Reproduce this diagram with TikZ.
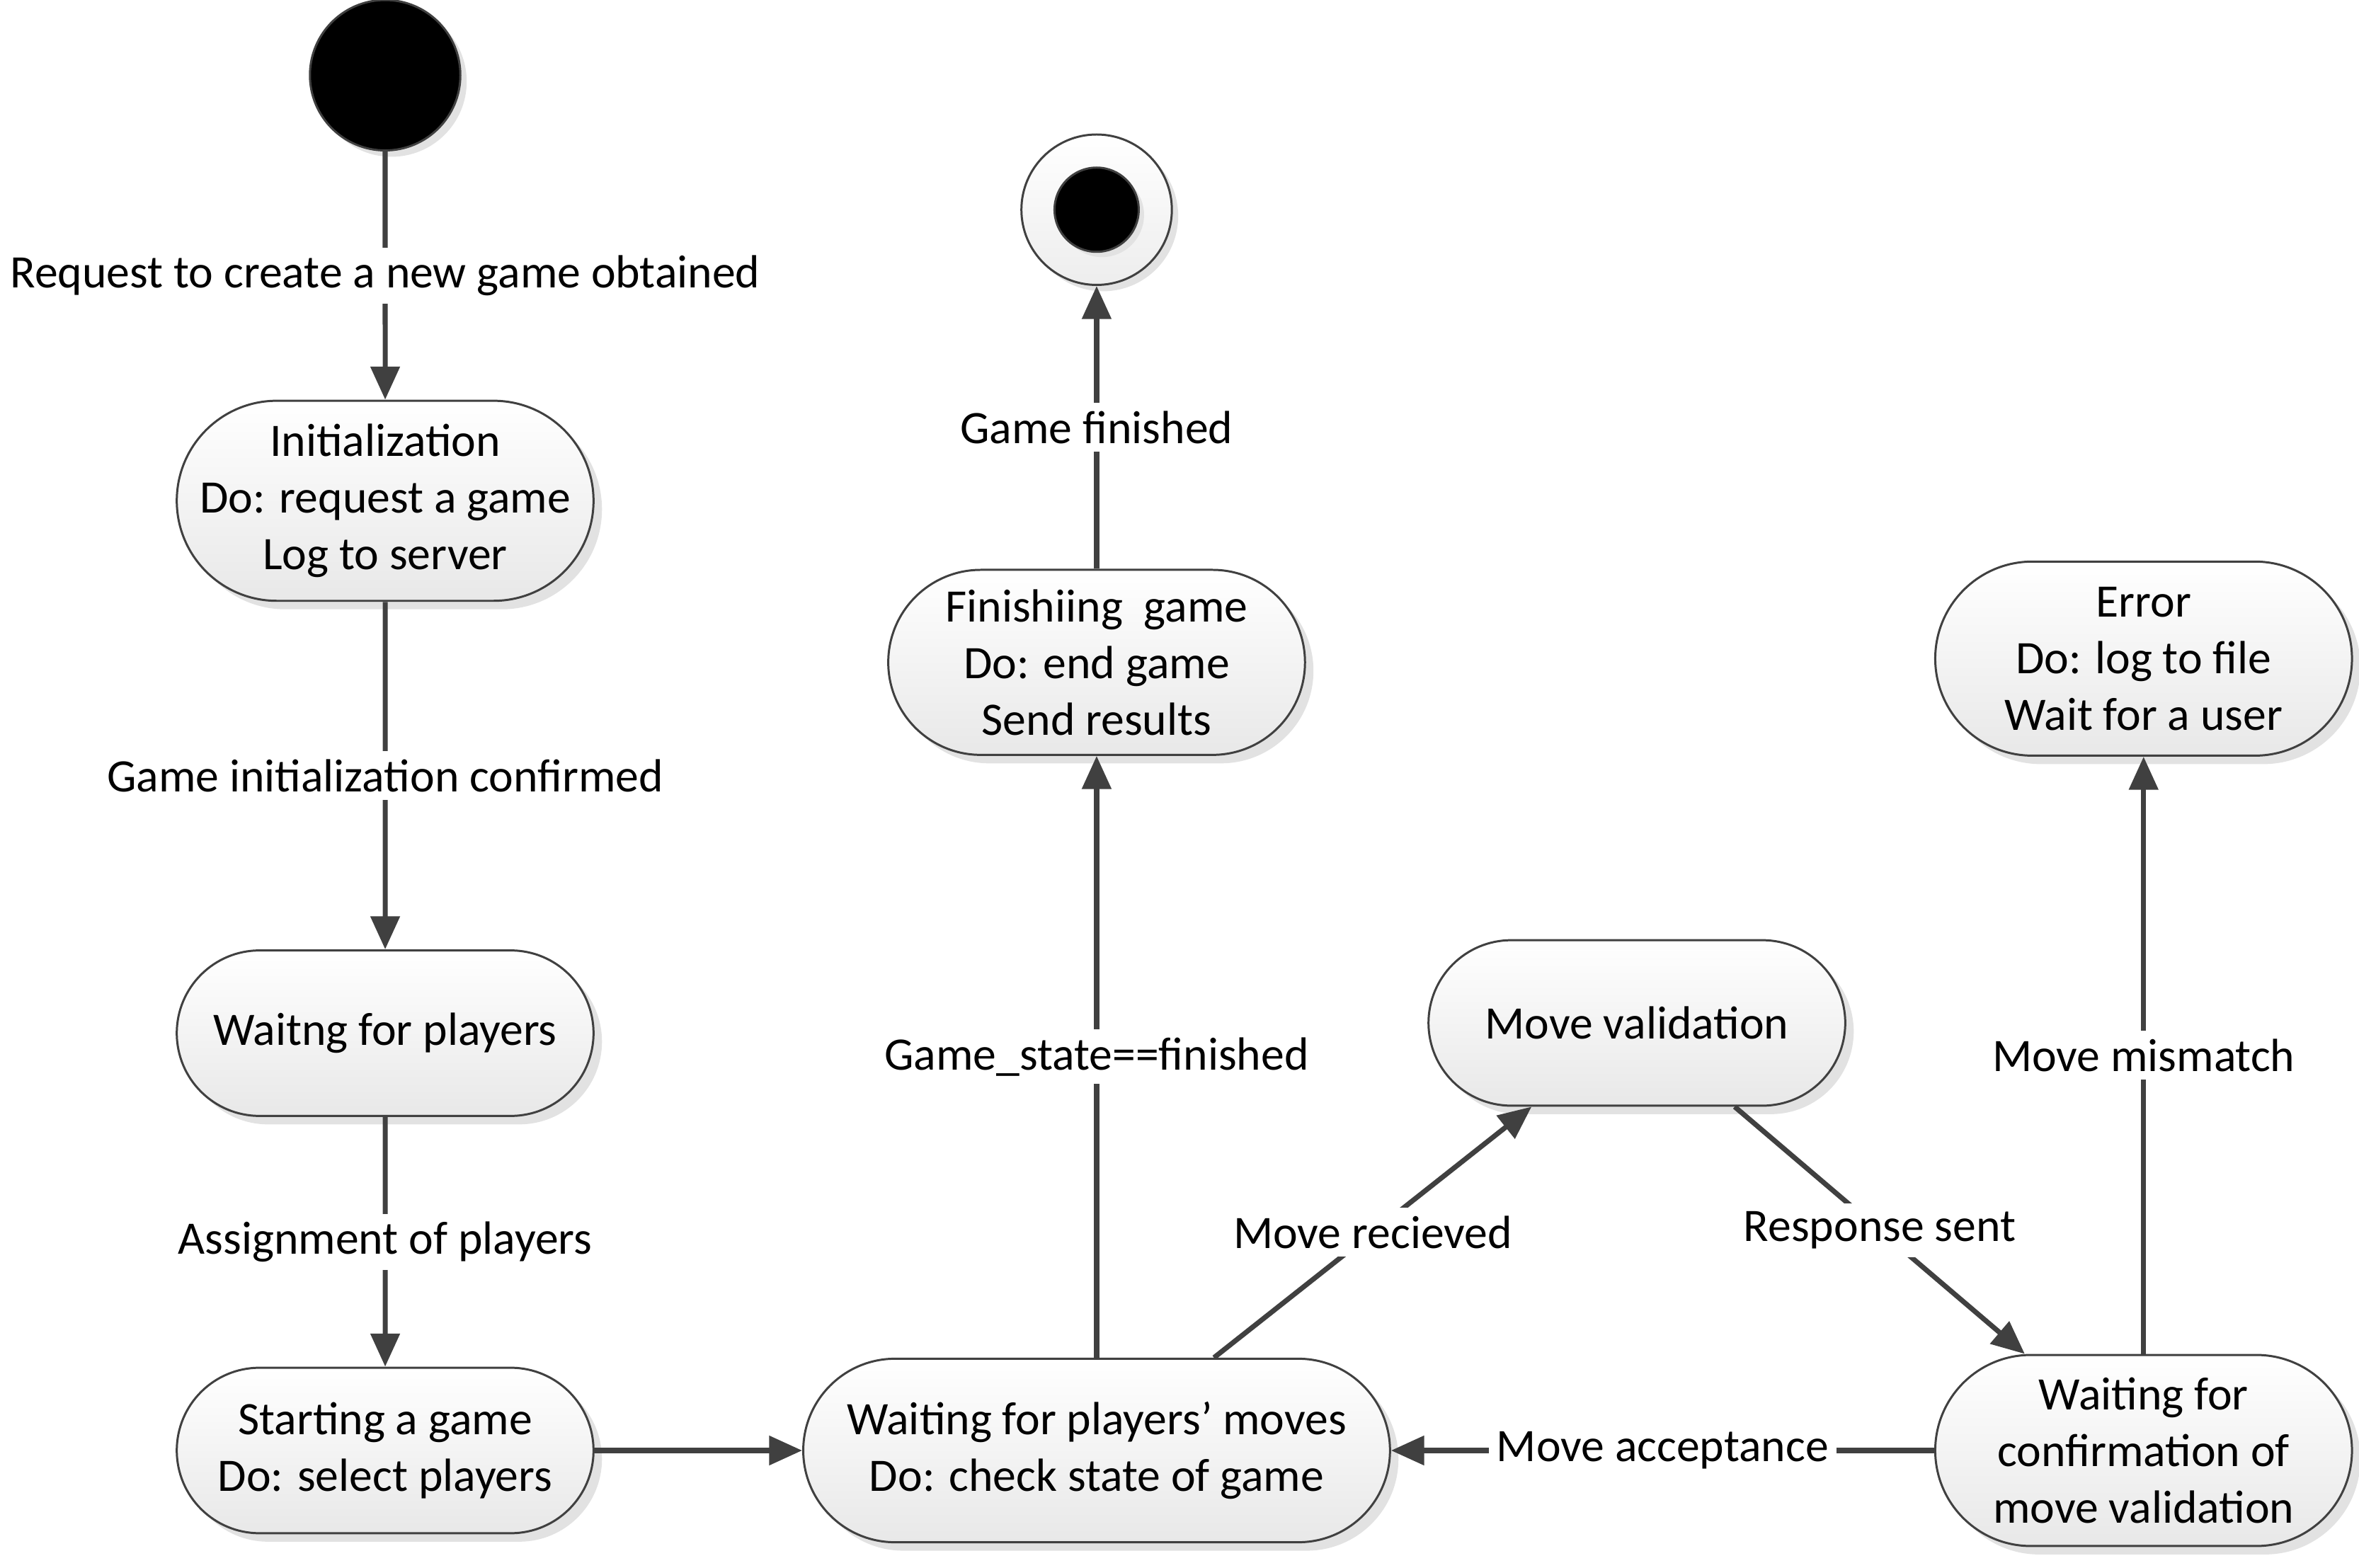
\documentclass[tikz,border=0pt]{standalone}
\usepackage{fontspec}
\setmainfont{Carlito}
\usetikzlibrary{shapes.misc, arrows.meta, positioning, shadows}
\definecolor{linegray}{HTML}{404040}
\definecolor{shadowgray}{HTML}{E2E2E2}
\tikzset{
    state/.style = {rounded rectangle, minimum width=2.77cm, minimum height=1.1cm, inner xsep=0pt, text centered, align=center, draw=linegray, line width=0.4pt, top color=white, bottom color=black!9, drop shadow={shadow xshift=1.6pt, shadow yshift=-1.6pt, fill=shadowgray, opacity=1}},
    initial/.style = {circle, minimum size=1cm, inner sep=0pt, fill=black, draw=linegray, line width=0.4pt, drop shadow={shadow xshift=1.2pt, shadow yshift=-1.2pt, fill=shadowgray, opacity=1}},
    endring/.style = {circle, minimum size=1cm, inner sep=0pt, draw=linegray, line width=0.4pt, top color=white, bottom color=black!7, drop shadow={shadow xshift=1.2pt, shadow yshift=-1.2pt, fill=shadowgray, opacity=1}},
    enddot/.style = {circle, minimum size=0.56cm, inner sep=0pt, fill=black, draw=linegray, line width=0.4pt, drop shadow={shadow xshift=1pt, shadow yshift=-1pt, fill=shadowgray, opacity=1}},
    arrow/.style = {line width=0.95pt, draw=linegray, -{Triangle[length=0.22cm, width=0.19cm]}},
    trans/.style = {fill=white, inner sep=1.5pt}
}

\begin{document}
\begin{tikzpicture}[font=\fontsize{8.8}{10.7}\selectfont]
\useasboundingbox (0,0) rectangle (15.68,-10.42);

\node (start) [initial] at (2.56,-0.5) {};
\node (init) [state, minimum height=1.33cm, below=1.65cm of start] {Initialization\\\makebox[2cm]{Do: request a game}\\Log to server};
\node (waitp) [state, below=2.31cm of init] {Waitng for players};
\node (startg) [state, below=1.66cm of waitp] {Starting a game\\Do: select players};
\node (waitm) [state, minimum width=3.9cm, minimum height=1.22cm, right=1.38cm of startg] {Waiting for players’ moves\\Do: check state of game};
\node (finish) [state, minimum height=1.23cm, above=4.0cm of waitm] {Finishiing\ \ game\\Do: end game\\Send results};
\node (final) [endring, above=1.88cm of finish] {};
\node (finaldot) [enddot] at (final) {};
\node (movev) [state] at (10.88,-6.8) {Move validation};
\node (confirm) [state, minimum height=1.27cm, right=3.61cm of waitm] {Waiting for\\confirmation of\\move validation};
\node (error) [state, minimum height=1.29cm, above=3.97cm of confirm] {Error\\Do: log to file\\Wait for a user};

% Main flow
\draw [arrow] (start) -- node[trans] {Request to create a new game obtained} (init);
\draw [arrow] (init) -- node[trans] {Game initialization confirmed} (waitp);
\draw [arrow] (waitp) -- node[trans] {Assignment of players} (startg);
\draw [arrow] (startg.east) -- (waitm.west);
\draw [arrow] (waitm.north) -- node[trans] {Game\_state==finished} (finish.south);
\draw [arrow] (finish.north) -- node[trans] {Game finished} (final.south);

% Move handling
\draw [arrow] ([xshift=0.78cm]waitm.north) -- node[trans] {Move recieved} ([xshift=-0.7cm]movev.south);
\draw [arrow] ([xshift=0.65cm]movev.south) -- node[trans] {Response sent} ([xshift=-0.79cm]confirm.north);
\draw [arrow] (confirm.west) -- node[trans] {Move acceptance} (waitm.east);
\draw [arrow] (confirm.north) -- node[trans] {Move mismatch} (error.south);

\end{tikzpicture}
\end{document}
